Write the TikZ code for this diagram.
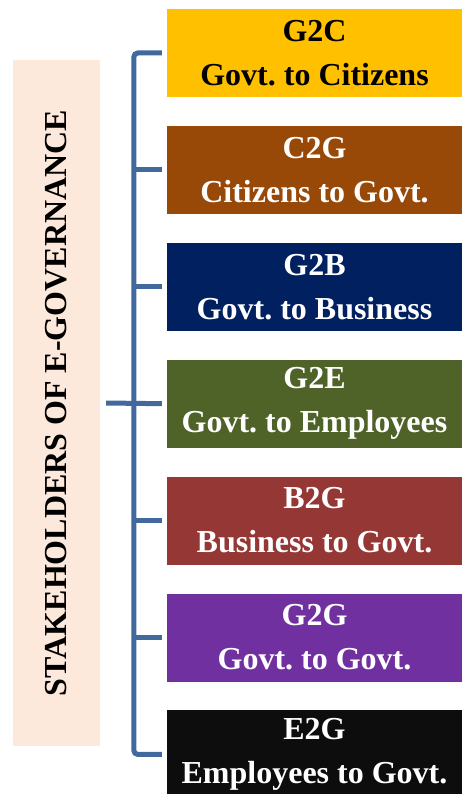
\documentclass[tikz,border=0pt]{standalone}
\usepackage{fontspec}
\setmainfont{Liberation Serif}
\usepackage{tikz}
\usetikzlibrary{positioning}
\frenchspacing

\definecolor{g2cyellow}{HTML}{FFC000}
\definecolor{c2gbrown}{HTML}{984807}
\definecolor{g2bnavy}{HTML}{002060}
\definecolor{g2eolive}{HTML}{4F6228}
\definecolor{b2gred}{HTML}{953735}
\definecolor{g2gpurple}{HTML}{7030A0}
\definecolor{e2gblack}{HTML}{0D0D0D}
\definecolor{panelpeach}{HTML}{FDE9DC}
\definecolor{linkblue}{HTML}{41699D}

\begin{document}
\begin{tikzpicture}[x=1pt, y=1pt, node distance=28.5pt,
        stake/.style={minimum width=295pt, minimum height=88pt, inner sep=0pt, align=center,
            text=white, font=\fontsize{32}{44}\selectfont\bfseries},
        bracket/.style={draw=linkblue, line width=5pt, rounded corners=4pt}]
        \useasboundingbox (0,0) rectangle (462,-794);

        \node[stake, fill=g2cyellow, text=black] (g2c) at (314.5,-53) {G2C\\Govt. to Citizens};
        \node[stake, fill=c2gbrown] (c2g) [below=of g2c] {C2G\\Citizens to Govt.};
        \node[stake, fill=g2bnavy] (g2b) [below=of c2g] {G2B\\Govt. to Business};
        \node[stake, fill=g2eolive] (g2e) [below=of g2b] {G2E\\Govt. to Employees};
        \node[stake, fill=b2gred] (b2g) [below=of g2e] {B2G\\Business to Govt.};
        \node[stake, fill=g2gpurple] (g2g) [below=of b2g] {G2G\\Govt. to Govt.};
        \node[stake, fill=e2gblack] (e2g) [below=of g2g] {E2G\\Employees to Govt.};

        \node[fill=panelpeach, rotate=90, minimum width=686pt, minimum height=87pt, inner sep=0pt,
            font=\fontsize{32}{36}\selectfont\bfseries] (panel) at (56.5,-403) {STAKEHOLDERS OF E-GOVERNANCE};

        % bracket joining the panel to the seven boxes
        \draw[bracket] ([xshift=-5pt]g2c.west) -- ++(-28,0) |- ([xshift=-5pt]e2g.west);
        \foreach \b in {c2g, g2b, g2e, b2g, g2g}
            \draw[bracket] ([xshift=-5pt]\b.west) -- ++(-28,0);
        \draw[bracket] ([xshift=6pt]panel.south) -- ([xshift=-5pt]g2e.west);
    \end{tikzpicture}
\end{document}
